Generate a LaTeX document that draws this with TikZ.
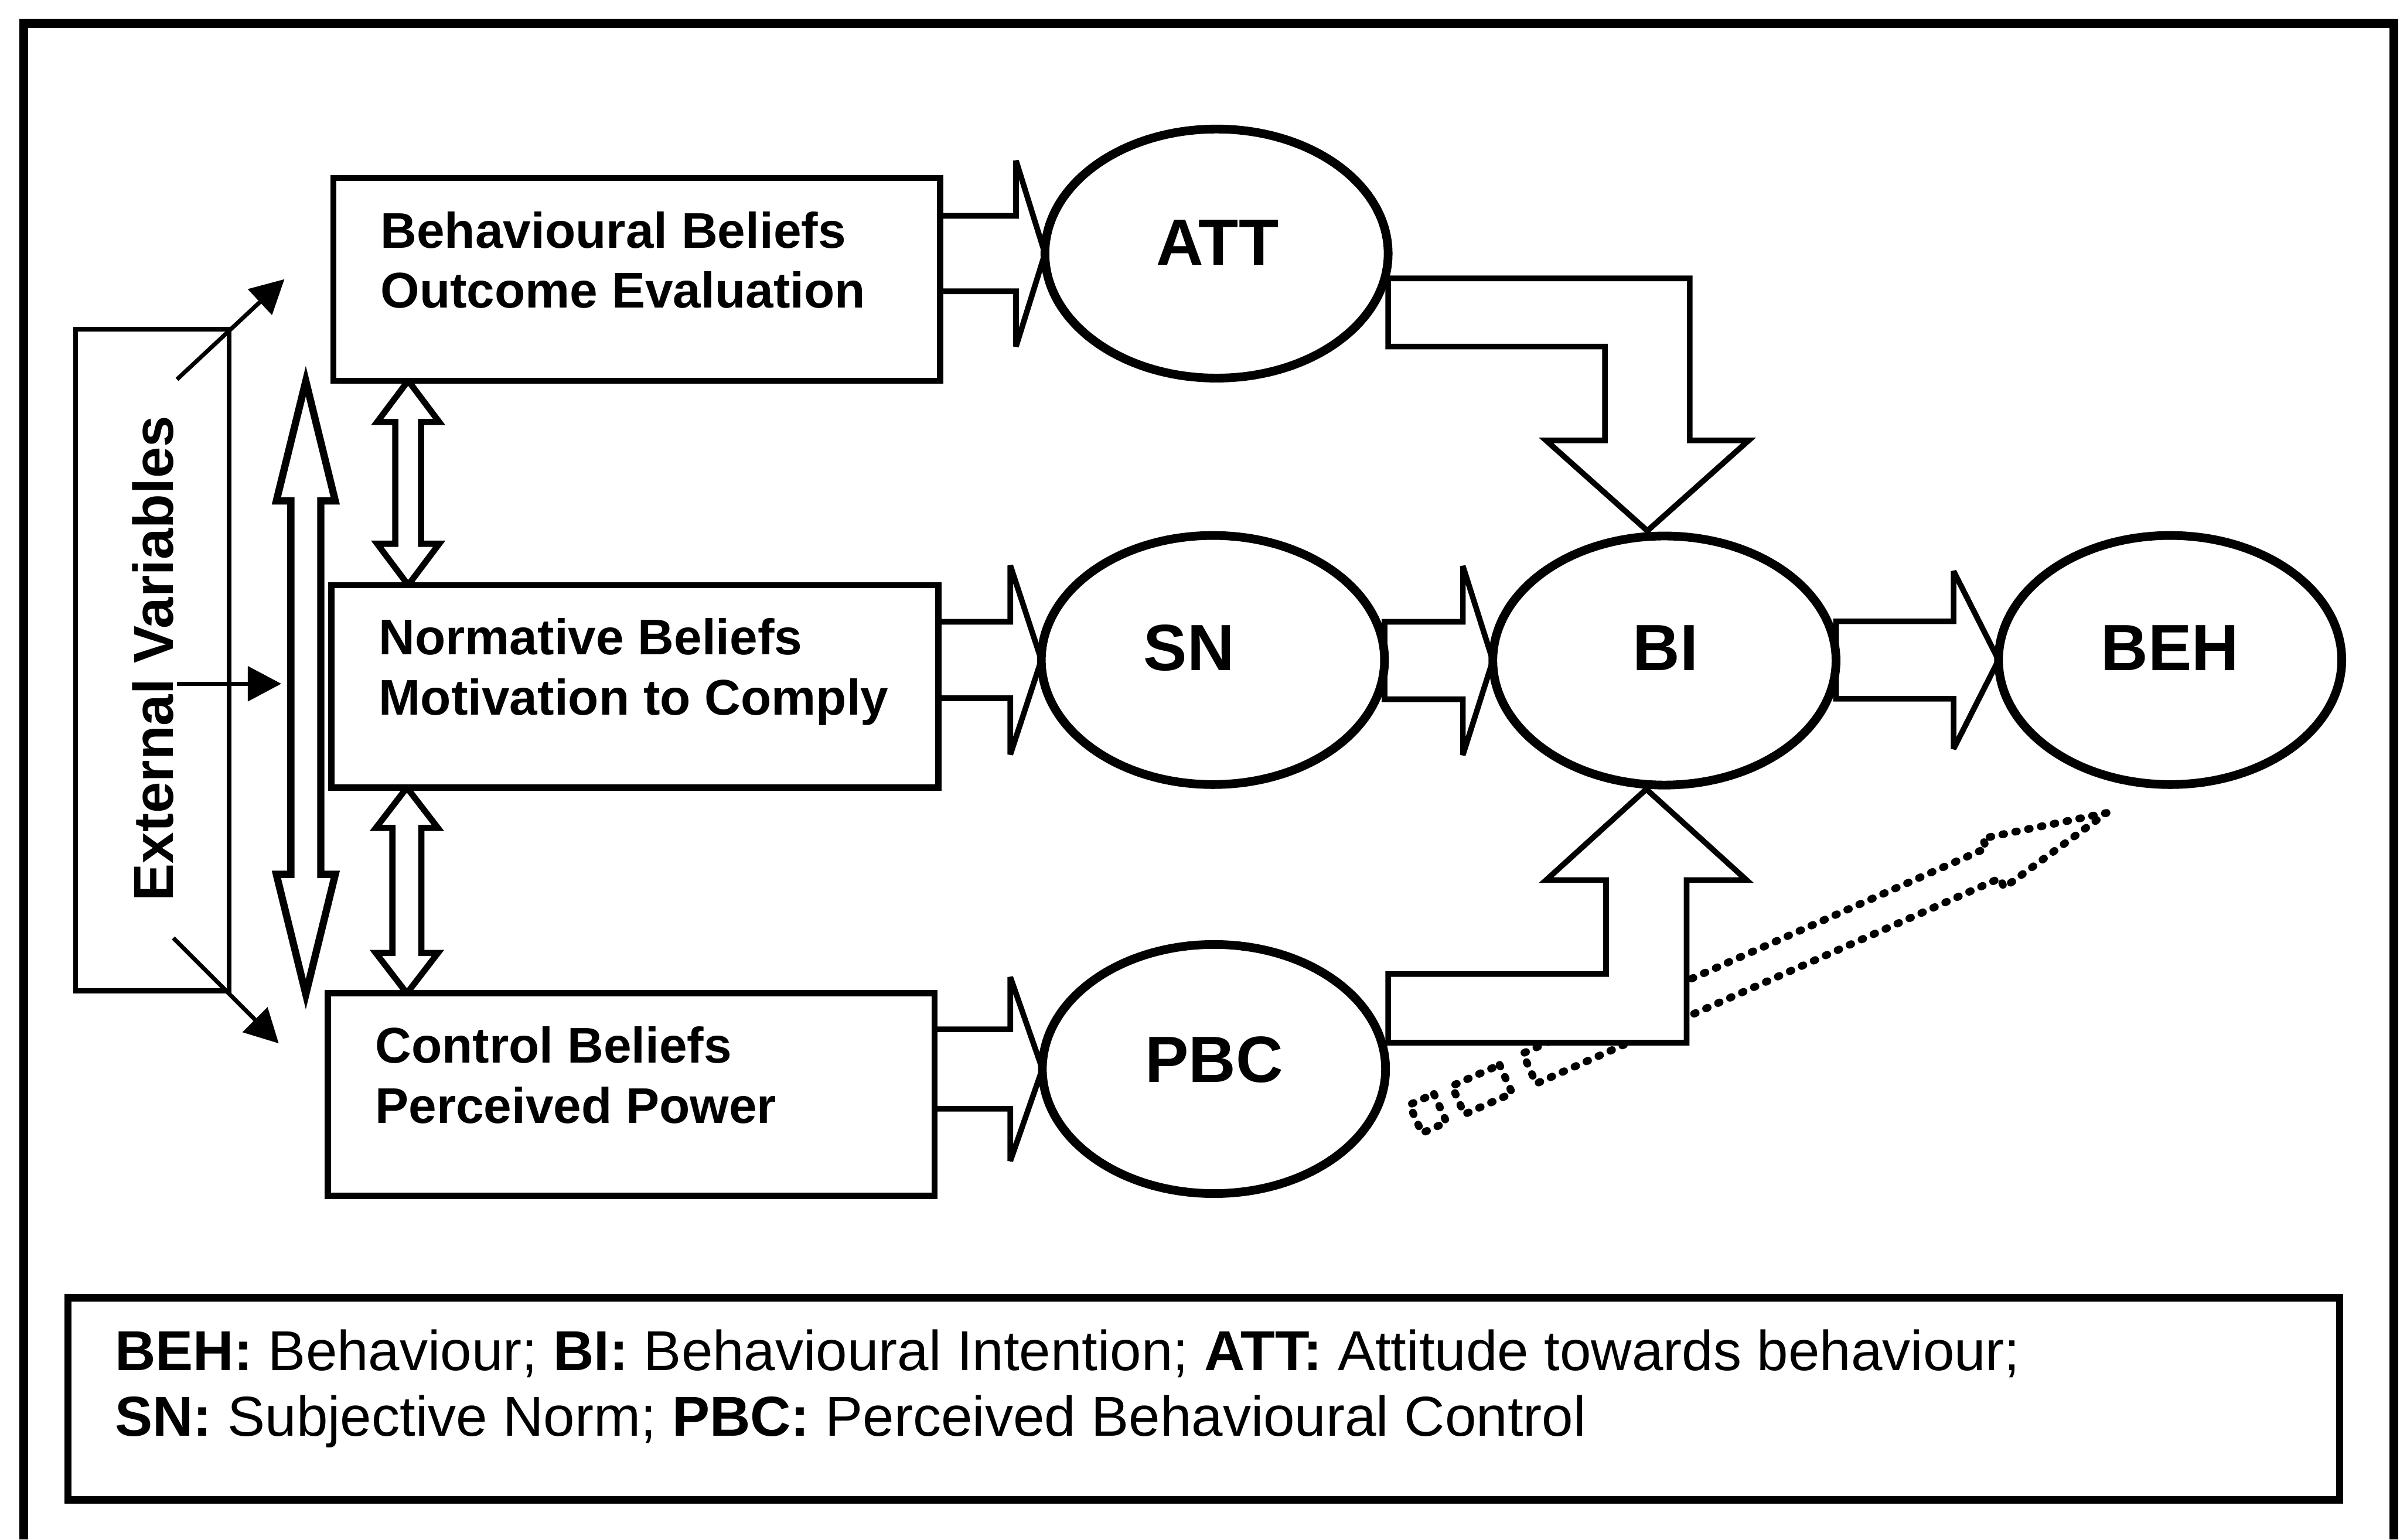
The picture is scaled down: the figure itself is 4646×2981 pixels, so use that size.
\documentclass[tikz,border=0pt]{standalone}
\usepackage{fontspec}
\setmainfont{Liberation Sans}
\usetikzlibrary{calc,arrows.meta,shapes.geometric}
\pgfdeclarelayer{back}
\pgfsetlayers{back,main}

% horizontal block arrow: from the east side of #2 to the west side of #3
% #4 shaft half height, #5 head half height, #6 head length
\newcommand\blockh[6]{%
  \coordinate (hS) at (#2.east |- #3.west);
  \coordinate (hT) at (#3.west);
  \draw[#1] ($(hS)+(0,-#4)$) -- ($(hT)+(-#6,-#4)$) -- ($(hT)+(-#6,-#5)$) -- (hT)
    -- ($(hT)+(-#6,#5)$) -- ($(hT)+(-#6,#4)$) -- ($(hS)+(0,#4)$) -- cycle;}

% vertical double-headed block arrow between two tips #2 (top) and #3 (bottom)
% #4 shaft half width, #5 head half width, #6 head length
\newcommand\blockv[6]{%
  \draw[#1] (#2) -- ($(#2)+(#5,#6)$) -- ($(#2)+(#4,#6)$) -- ($(#3)+(#4,-#6)$)
    -- ($(#3)+(#5,-#6)$) -- (#3) -- ($(#3)+(-#5,-#6)$) -- ($(#3)+(-#4,-#6)$)
    -- ($(#2)+(-#4,#6)$) -- ($(#2)+(-#5,#6)$) -- cycle;}

\begin{document}
\begin{tikzpicture}[x=0.01cm, y=-0.01cm,
  outerframe/.style={line width=5.1pt, line join=miter},
  beliefbox/.style={draw, rectangle, line width=3.4pt, fill=white,
    minimum width=11.74cm, minimum height=3.92cm, inner sep=0pt, outer sep=0pt},
  extbox/.style={draw, rectangle, line width=2.8pt, fill=white,
    minimum width=2.97cm, minimum height=12.8cm, inner sep=0pt, outer sep=0pt},
  legendbox/.style={draw, rectangle, line width=4pt,
    minimum width=43.95cm, minimum height=3.91cm, inner sep=0pt, outer sep=0pt},
  construct/.style={draw, ellipse, line width=4.8pt, fill=white,
    minimum width=6.64cm, minimum height=4.82cm, inner sep=0pt, outer sep=0pt},
  btext/.style={font=\bfseries\fontsize{27.6}{33}\selectfont, inner sep=0pt, anchor=base west},
  ctext/.style={font=\bfseries\fontsize{36}{40}\selectfont, inner sep=0pt, anchor=base},
  exttext/.style={font=\bfseries\fontsize{31}{36}\selectfont, inner sep=0pt, anchor=base, rotate=90},
  legtext/.style={font=\fontsize{31}{36}\selectfont, inner sep=0pt, anchor=base west},
  blockarrow/.style={draw, line width=3.1pt, fill=white, line join=miter, miter limit=3},
  dblarrow/.style={draw, line width=3.4pt, fill=white, line join=miter, miter limit=3},
  bigarrow/.style={draw, line width=4pt, fill=white, line join=miter, miter limit=6},
  thinarrow/.style={line width=2.3pt, -{Triangle[length=18.5pt,width=19pt]}},
  dotline/.style={line width=4.2pt, line cap=round, line join=round, dash pattern=on 1pt off 6.2pt}
]
\useasboundingbox (0,0) rectangle (4646,2981);

% outer frame (open at the bottom)
\draw[outerframe] (46,2981) -- (46,45) -- (4634,45) -- (4634,2981);

% belief boxes
\node[beliefbox] (b1) at (1232.5,541) {};
\node[beliefbox] (b2) at (1229,1329) {};
\node[beliefbox] (b3) at (1222,2119.5) {};
\node[btext] (b1a) at ($(b1.north west)+(91,135)$) {Behavioural Beliefs};
\node[btext] (b1b) at ($(b1.north west)+(91,251)$) {Outcome Evaluation};
\node[btext] (b2a) at ($(b2.north west)+(91,135)$) {Normative Beliefs};
\node[btext] (b2b) at ($(b2.north west)+(91,251)$) {Motivation to Comply};
\node[btext] (b3a) at ($(b3.north west)+(91,135)$) {Control Beliefs};
\node[btext] (b3b) at ($(b3.north west)+(91,251)$) {Perceived Power};

% constructs
\node[construct] (att) at (2355,491) {};
\node[construct] (sn)  at (2348,1278) {};
\node[construct] (pbc) at (2350,2070) {};
\node[construct] (bi)  at (3222,1279) {};
\node[construct] (beh) at (4201,1278) {};
\node[ctext] (attl) at ($(att)+(2,22)$) {ATT};
\node[ctext] (snl)  at ($(sn)+(-46,20)$) {SN};
\node[ctext] (pbcl) at ($(pbc)+(0,26)$) {PBC};
\node[ctext] (bil)  at ($(bi)+(2,19)$) {BI};
\node[ctext] (behl) at ($(beh)+(0,20)$) {BEH};

% external variables
\node[extbox] (ext) at (295,1278) {};
\node[exttext] (extl) at (335,1275) {External Variables};
\coordinate (x1s) at ($(ext.north east)+(-101,97)$);
\coordinate (x1e) at ($(ext.north east)+(107,-97)$);
\coordinate (x2s) at ($(ext.east)+(-101,46)$);
\coordinate (x2e) at ($(ext.east)+(101,46)$);
\coordinate (x3s) at ($(ext.south east)+(-108,-102)$);
\coordinate (x3e) at ($(ext.south east)+(96,102)$);
\draw[thinarrow] (x1s) -- (x1e);
\draw[thinarrow] (x2s) -- (x2e);
\draw[thinarrow] (x3s) -- (x3e);

% legend
\node[legendbox] (leg) at (2330.5,2708.5) {};
\node[legtext] (leg1) at (222,2654) {\textbf{BEH:} Behaviour; \textbf{BI:} Behavioural Intention; \textbf{ATT:} Attitude towards behaviour;};
\node[legtext] (leg2) at (222,2781) {\textbf{SN:} Subjective Norm; \textbf{PBC:} Perceived Behavioural Control};

\begin{pgfonlayer}{back}
  % dotted feedback arrow from PBC towards BEH
  \coordinate (dtip) at ($(beh)+(-123,296)$);
  \begin{scope}[shift={(dtip)}, rotate=23.9]
    \draw[dotline] (0,0) -- (-240,-52) -- (-240,-32) -- (-1222,-32) -- (-1222,32)
      -- (-240,32) -- (-240,52) -- cycle;
    \draw[dotline] (-1272,-30) rectangle (-1373,30);
    \draw[dotline] (-1411,-30) rectangle (-1463,30);
  \end{scope}

  % straight block arrows
  \blockh{blockarrow}{b1}{att}{73}{180}{56}
  \blockh{blockarrow}{b2}{sn}{74}{183}{60}
  \blockh{blockarrow}{b3}{pbc}{77}{178}{62}
  \blockh{blockarrow}{sn}{bi}{75}{183}{58}
  \blockh{blockarrow}{bi}{beh}{75}{172}{87}

  % ATT -> BI bent arrow
  \coordinate (aT) at ($(bi.north)+(-33,-10)$);
  \coordinate (aR) at ($(aT)+(82,0)$);
  \coordinate (aL) at ($(aT)+(-82,0)$);
  \coordinate (aHR) at ($(aT)+(196,-175)$);
  \coordinate (aHL) at ($(aT)+(-196,-175)$);
  \coordinate (aU) at ($(att.east)+(0,48)$);
  \coordinate (aD) at ($(att.east)+(0,180)$);
  \draw[blockarrow] (aU) -- (aR |- aU) -- (aR |- aHR) -- (aHR) -- (aT) -- (aHL)
    -- (aL |- aHL) -- (aL |- aD) -- (aD) -- cycle;

  % PBC -> BI bent arrow
  \coordinate (pT) at ($(bi.south)+(-35,8)$);
  \coordinate (pR) at ($(pT)+(78,0)$);
  \coordinate (pL) at ($(pT)+(-78,0)$);
  \coordinate (pHR) at ($(pT)+(194,176)$);
  \coordinate (pHL) at ($(pT)+(-194,176)$);
  \coordinate (pU) at ($(pbc.east)+(5,-184)$);
  \coordinate (pD) at ($(pbc.east)+(5,-51)$);
  \draw[blockarrow] (pD) -- (pR |- pD) -- (pR |- pHR) -- (pHR) -- (pT) -- (pHL)
    -- (pL |- pHL) -- (pL |- pU) -- (pU) -- cycle;

  % double arrows between the belief boxes
  \coordinate (d1t) at ($(b1.south west)+(145,0)$);
  \coordinate (d1b) at (d1t |- b2.north);
  \blockv{dblarrow}{d1t}{d1b}{25}{60}{80}
  \coordinate (d2t) at ($(b2.south west)+(146,0)$);
  \coordinate (d2b) at (d2t |- b3.north);
  \blockv{dblarrow}{d2t}{d2b}{28}{60}{78}

  % long double arrow beside the external variables
  \coordinate (vt) at (592,738);
  \coordinate (vb) at (592,1925);
  \blockv{bigarrow}{vt}{vb}{29}{57}{232}
\end{pgfonlayer}
\end{tikzpicture}
\end{document}
